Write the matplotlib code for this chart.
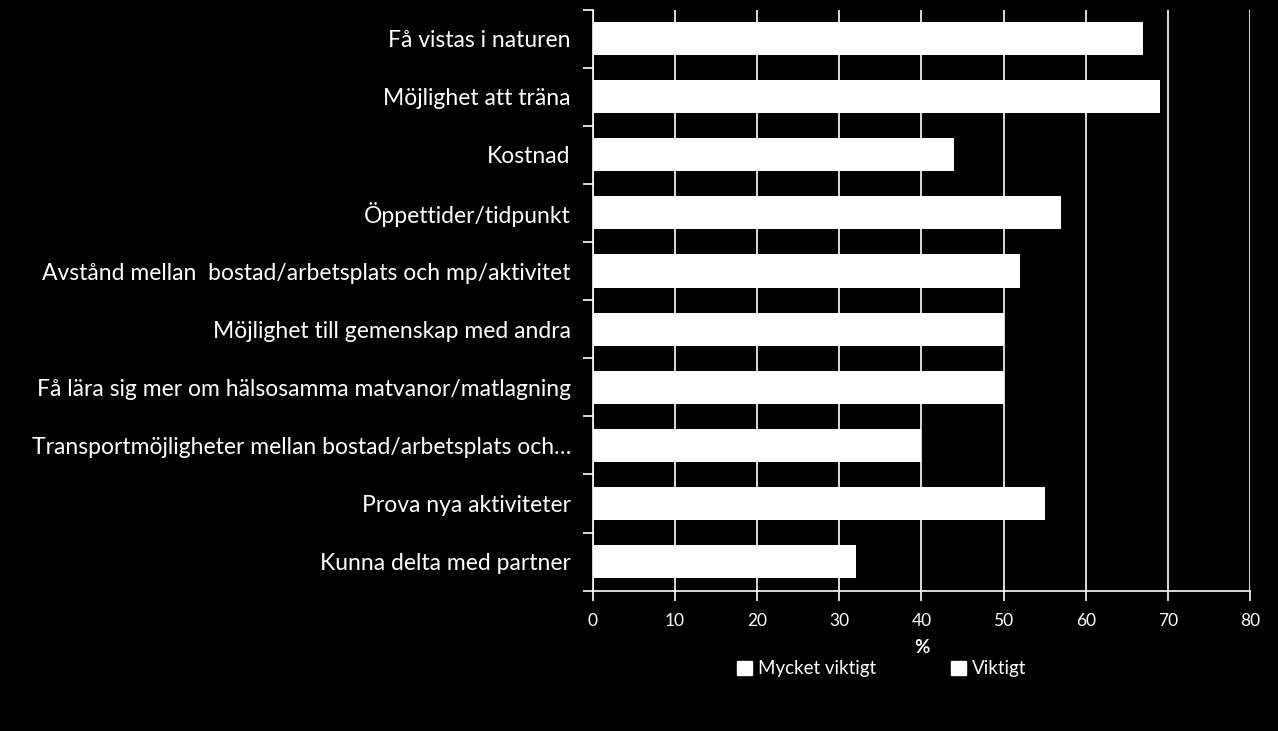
import matplotlib.pyplot as plt
from matplotlib.patches import Patch

# Data
kategorier = [
    "Få vistas i naturen",
    "Möjlighet att träna",
    "Kostnad",
    "Öppettider/tidpunkt",
    "Avstånd mellan  bostad/arbetsplats och mp/aktivitet",
    "Möjlighet till gemenskap med andra",
    "Få lära sig mer om hälsosamma matvanor/matlagning",
    "Transportmöjligheter mellan bostad/arbetsplats och…",
    "Prova nya aktiviteter",
    "Kunna delta med partner",
]
procent = [67, 69, 44, 57, 52, 50, 50, 40, 55, 32]
x_ticks = [0, 10, 20, 30, 40, 50, 60, 70, 80]
serier = ["Mycket viktigt", "Viktigt"]

plt.rcParams['font.family'] = ['Lato', 'DejaVu Sans']

fig = plt.figure(figsize=(12.78, 7.31), dpi=100, facecolor='black')
ax = fig.add_axes([0.464, 0.192, 0.514, 0.795], facecolor='black')

y = list(range(len(kategorier)))
ax.barh(y, procent, height=0.57, color='white', zorder=3)

ax.set_ylim(len(kategorier) - 0.5, -0.5)
ax.set_xlim(0, 80)
ax.set_xticks(x_ticks)
ax.set_xticklabels([str(t) for t in x_ticks], color='white', fontsize=12.5)

ax.set_yticks(y)
ax.set_yticklabels(kategorier, color='white', fontsize=16.5)
ax.tick_params(axis='y', length=0, pad=16)
ax.set_yticks([i + 0.5 for i in range(-1, len(kategorier))], minor=True)
ax.tick_params(axis='y', which='minor', length=7, color='white', width=1.2)
ax.tick_params(axis='x', length=7, color='white', width=1.2, pad=9)

ax.grid(axis='x', color='white', linewidth=1.2, zorder=1)
for s in ['top', 'right']:
    ax.spines[s].set_visible(False)
for s in ['left', 'bottom']:
    ax.spines[s].set_color('white')
    ax.spines[s].set_linewidth(1.2)

ax.set_xlabel('%', color='white', fontsize=13.5, fontweight='bold', labelpad=7)

handles = [Patch(facecolor='white', edgecolor='white', label=s) for s in serier]
fig.legend(handles=handles, loc='center', bbox_to_anchor=(0.69, 0.085), ncol=2,
           frameon=False, fontsize=13.5, labelcolor='white', handlelength=0.8,
           handleheight=0.8, handletextpad=0.3, columnspacing=4)

fig.savefig('out.png', dpi=100, facecolor='black')
